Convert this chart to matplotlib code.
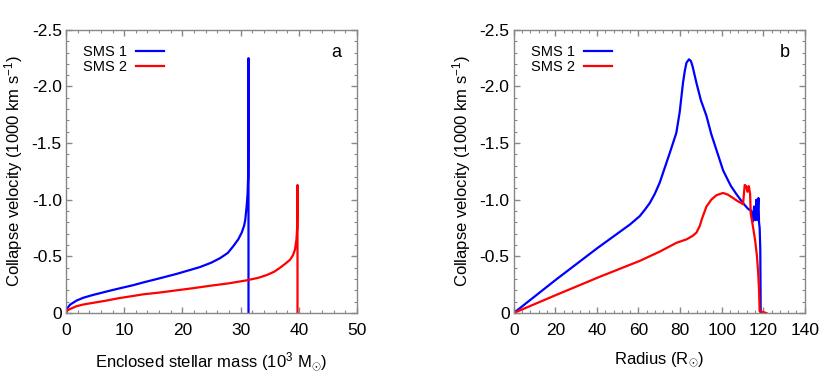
import matplotlib
matplotlib.use("Agg")
import matplotlib.pyplot as plt
from matplotlib.ticker import MultipleLocator, FuncFormatter

plt.rcParams['font.family'] = ['Liberation Sans', 'DejaVu Sans']
plt.rcParams['mathtext.fontset'] = 'custom'
plt.rcParams['mathtext.rm'] = 'Liberation Sans'
plt.rcParams['mathtext.it'] = 'Liberation Sans:italic'

# Panel a: enclosed mass (10^3 Msun) vs collapse velocity (1000 km/s)
mass1 = [0, 0.2, 0.69, 1.83, 3.0, 4.7, 7.0, 9.0, 11.5, 13.3, 16, 19, 21, 23, 25, 26.5,
         27.8, 28.75, 29.6, 30.2, 30.6, 30.8, 31.04, 31.2, 31.3, 31.33, 31.36, 31.36]
vel1 = [0, -0.04, -0.073, -0.11, -0.135, -0.16, -0.19, -0.215, -0.245, -0.27, -0.305,
        -0.345, -0.375, -0.405, -0.445, -0.485, -0.53, -0.59, -0.65, -0.71, -0.77, -0.82,
        -0.94, -1.05, -1.2, -1.6, -2.25, 0]
mass2 = [0, 0.2, 0.69, 1.83, 3.0, 4.7, 7.0, 9.0, 11.5, 13.3, 16, 19, 22, 24.7, 28, 31,
         33, 34.5, 35.8, 36.8, 37.8, 38.5, 39.0, 39.35, 39.6, 39.72, 39.75, 39.78, 39.78]
vel2 = [0, -0.02, -0.035, -0.06, -0.075, -0.09, -0.11, -0.13, -0.15, -0.165, -0.18,
        -0.2, -0.22, -0.24, -0.262, -0.288, -0.31, -0.335, -0.365, -0.40, -0.44, -0.47,
        -0.51, -0.56, -0.65, -0.75, -0.9, -1.13, 0]

# Panel b: radius (Rsun) vs collapse velocity (1000 km/s)
rad1 = [0, 20, 40, 55.8, 60.6, 63.0, 65.4, 67.8, 70.2, 72.6, 75.0, 78.2, 79.8, 81.4,
        82.3, 83.1, 84.3, 85.2, 86.0, 87.9, 90.0, 92.7, 95.0, 97.5, 100.7, 102.3, 104.5,
        107.1, 110.3, 112.7, 114.3, 115.1, 115.6, 116.2, 116.7, 117.2, 117.7, 118.0,
        118.3, 118.6, 118.8]
vel1b = [0, -0.29, -0.57, -0.78, -0.855, -0.91, -0.97, -1.05, -1.15, -1.28, -1.41,
         -1.59, -1.77, -2.03, -2.14, -2.21, -2.24, -2.225, -2.18, -2.03, -1.88, -1.74,
         -1.58, -1.44, -1.26, -1.2, -1.12, -1.05, -0.97, -0.92, -0.9, -0.81, -0.94,
         -0.82, -1.0, -0.82, -1.015, -0.8, -0.75, -0.56, 0]
rad2 = [0, 20.5, 41.4, 60.6, 70, 78.3, 83.1, 86.0, 87.9, 89.5, 90.5, 92.7, 95.0, 97.5,
        100.7, 103.0, 105.5, 107.5, 109.5, 110.3, 111.1, 111.9, 112.4, 113.1, 113.7,
        114.0, 115.1, 116.2, 117.0, 117.6, 118.0, 118.3, 119.5, 121.5]
vel2b = [0, -0.16, -0.32, -0.46, -0.54, -0.62, -0.65, -0.68, -0.71, -0.77, -0.83,
         -0.94, -1.0, -1.04, -1.06, -1.045, -1.015, -0.99, -0.97, -0.96, -1.13, -1.12,
         -1.07, -1.12, -1.05, -0.88, -0.76, -0.63, -0.5, -0.35, -0.2, -0.015, -0.01, 0]

labels = ["SMS 1", "SMS 2"]
colors = ["#0000ff", "#ff0000"]

fig = plt.figure(figsize=(8.3, 3.78), dpi=100)
axa = fig.add_axes([0.0795, 0.172, 0.3506, 0.749])
axb = fig.add_axes([0.619, 0.172, 0.3506, 0.749])

def yfmt(v, pos):
    if abs(v) < 1e-9:
        return "0"
    return "%.1f" % v

panels = [
    (axa, mass1, vel1, mass2, vel2, 50, 10, 2,
     r"Enclosed stellar mass (10$^{3}$ M$_{\odot}$)", "a"),
    (axb, rad1, vel1b, rad2, vel2b, 140, 20, 4,
     r"Radius (R$_{\odot}$)", "b"),
]

for ax, x1, y1, x2, y2, xmax, xmaj, xmin, xlabel, tag in panels:
    ax.plot(x1, y1, color=colors[0], lw=1.6, label=labels[0])
    ax.plot(x2, y2, color=colors[1], lw=1.6, label=labels[1])
    ax.set_xlim(0, xmax)
    ax.set_ylim(0, -2.5)
    ax.xaxis.set_major_locator(MultipleLocator(xmaj))
    ax.xaxis.set_minor_locator(MultipleLocator(xmin))
    ax.yaxis.set_major_locator(MultipleLocator(0.5))
    ax.yaxis.set_minor_locator(MultipleLocator(0.1))
    ax.yaxis.set_major_formatter(FuncFormatter(yfmt))
    ax.tick_params(which='both', direction='in', top=True, right=True,
                   color='#888888', labelsize=12.5)
    ax.tick_params(axis='y', pad=3)
    ax.tick_params(axis='x', pad=7)
    ax.tick_params(which='major', length=4, width=1)
    ax.tick_params(which='minor', length=2.5, width=0.8)
    for s in ax.spines.values():
        s.set_color('#888888')
        s.set_linewidth(1)
    ax.set_xlabel(xlabel, fontsize=12, labelpad=9)
    ax.set_ylabel(r"Collapse velocity (1000 km s$^{-1}$)", fontsize=12, labelpad=5)
    ax.text(0.93, 0.92, tag, transform=ax.transAxes, fontsize=13,
            ha='center', va='center')
    ax.legend(loc='upper left', frameon=False, markerfirst=False, fontsize=10.5,
              handlelength=1.9, handletextpad=0.65, labelspacing=0.05,
              borderpad=0, borderaxespad=0, bbox_to_anchor=(0.058, 0.945))

fig.savefig("out.png", dpi=100)
